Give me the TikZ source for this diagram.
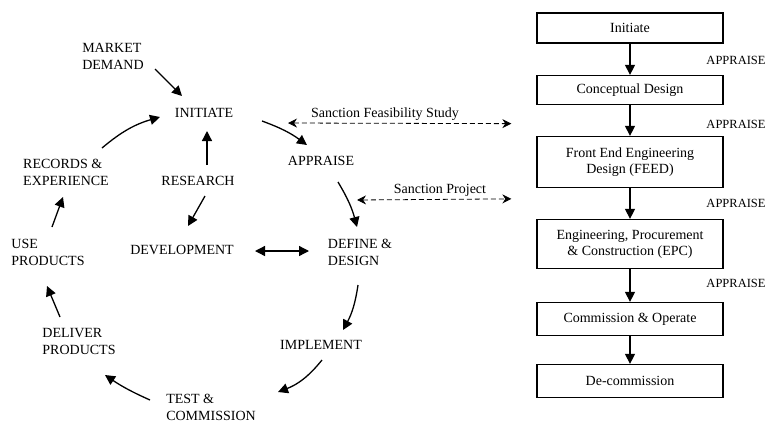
\documentclass[tikz,border=0pt]{standalone}
\usepackage{fontspec}
\setmainfont{Liberation Serif}
\usetikzlibrary{arrows.meta}

\begin{document}
\begin{tikzpicture}[x=1pt,y=-1pt,
    lbl/.style={inner sep=1pt,align=left,font=\fontsize{14}{17}\selectfont},
    flow/.style={line width=1.3pt,-{Triangle[length=10pt,width=10pt]}},
    biflow/.style={line width=1.3pt,{Triangle[length=10pt,width=10pt]}-{Triangle[length=10pt,width=10pt]}},
    sanction/.style={line width=0.8pt,dash pattern=on 5pt off 3pt,{Stealth[length=9pt,width=9pt]}-{Stealth[length=9pt,width=9pt]}},
    stage/.style={draw,line width=1.3pt,minimum width=186pt,align=center,font=\fontsize{14}{16}\selectfont},
    gate/.style={inner sep=0pt,font=\fontsize{12.5}{14}\selectfont}]
    \useasboundingbox (0,0) rectangle (767,424);

    \node[lbl] (market) at (113,56) {MARKET\\DEMAND};
    \node[lbl] (initiate) at (204,113) {INITIATE};
    \node[lbl] (research) at (198,181) {RESEARCH};
    \node[lbl] (records) at (66,172) {RECORDS \&\\EXPERIENCE};
    \node[lbl] (use) at (48,252) {USE\\PRODUCTS};
    \node[lbl] (devel) at (182,250) {DEVELOPMENT};
    \node[lbl] (define) at (360,252) {DEFINE \&\\DESIGN};
    \node[lbl] (appraise) at (321,161) {APPRAISE};
    \node[lbl] (implement) at (321,345) {IMPLEMENT};
    \node[lbl] (test) at (211,407) {TEST \&\\COMMISSION};
    \node[lbl] (deliver) at (79,341) {DELIVER\\PRODUCTS};

    \draw[flow] ([shift={(42,13)}]market.center) -- ([shift={(-22,-17)}]initiate.center);
    \draw[flow] ([shift={(9,-16)}]research.center) -- ([shift={(3,18)}]initiate.center);
    \draw[flow] ([shift={(7,15)}]research.center) -- ([shift={(6,-24)}]devel.center);
    \draw[biflow] ([shift={(73,1)}]devel.center) -- ([shift={(-51,-1)}]define.center);
    \draw[flow] ([shift={(58,8)}]initiate.center) to[bend left=8] ([shift={(-14,-16)}]appraise.center);
    \draw[flow] ([shift={(17,21)}]appraise.center) to[bend left=8] ([shift={(-3,-25)}]define.center);
    \draw[flow] ([shift={(-2,33)}]define.center) to[bend left=10] ([shift={(22,-15)}]implement.center);
    \draw[flow] ([shift={(1,15)}]implement.center) to[bend left=15] ([shift={(67,-15)}]test.center);
    \draw[flow] ([shift={(-61,-7)}]test.center) to[bend left=5] ([shift={(26,34)}]deliver.center);
    \draw[flow] ([shift={(-19,-24)}]deliver.center) -- ([shift={(-1,34)}]use.center);
    \draw[flow] ([shift={(4,-25)}]use.center) -- ([shift={(-3,25)}]records.center);
    \draw[flow] ([shift={(36,-24)}]records.center) to[bend left=12] ([shift={(-44,4)}]initiate.center);

    \node[stage,minimum height=30pt] (init) at (630,28) {Initiate};
    \node[stage,minimum height=29pt] (concept) at (630,90) {Conceptual Design};
    \node[stage,minimum height=51pt] (feed) at (630,162) {Front End Engineering\\Design (FEED)};
    \node[stage,minimum height=49pt] (epc) at (630,244) {Engineering, Procurement\\\& Construction (EPC)};
    \node[stage,minimum height=33pt] (comm) at (630,319) {Commission \& Operate};
    \node[stage,minimum height=33pt] (decomm) at (630,381) {De-commission};

    \draw[flow] (init) -- (concept);
    \draw[flow] (concept) -- (feed);
    \draw[flow] (feed) -- (epc);
    \draw[flow] (epc) -- (comm);
    \draw[flow] (comm) -- (decomm);

    \node[gate] (gate1) at (736,60) {APPRAISE};
    \node[gate] (gate2) at (736,124) {APPRAISE};
    \node[gate] (gate3) at (736,203) {APPRAISE};
    \node[gate] (gate4) at (736,283) {APPRAISE};

    \draw[sanction] ([shift={(-33,-38)}]appraise.center) -- ([shift={(-25,18.5)}]concept.south west);
    \node[lbl] (feas) at (385,114) {Sanction Feasibility Study};
    \draw[sanction] ([shift={(-3,-52)}]define.center) -- ([shift={(-25,-20)}]epc.north west);
    \node[lbl] (proj) at (440,190) {Sanction Project};
\end{tikzpicture}
\end{document}
